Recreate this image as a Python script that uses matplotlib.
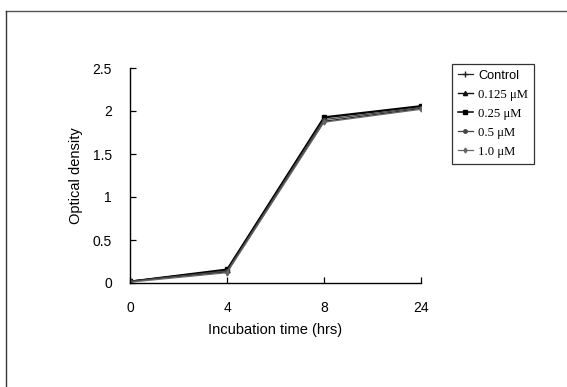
import matplotlib
matplotlib.use("Agg")
import matplotlib.pyplot as plt
from matplotlib.lines import Line2D

times = ["0", "4", "8", "24"]
series_names = ["Control", "0.125 \u03bcM", "0.25 \u03bcM", "0.5 \u03bcM", "1.0 \u03bcM"]
control = [0.02, 0.13, 1.88, 2.03]
c0125 = [0.02, 0.15, 1.92, 2.05]
c025 = [0.02, 0.16, 1.93, 2.06]
c05 = [0.02, 0.14, 1.90, 2.04]
c10 = [0.01, 0.12, 1.87, 2.02]
yticks = [0, 0.5, 1, 1.5, 2, 2.5]

W, H = 567, 387
fig = plt.figure(figsize=(W / 100, H / 100), dpi=100)
ax = fig.add_axes([130 / W, 1 - 283 / H, (421 - 130) / W, (283 - 68) / H])

styles = [
    dict(color="#222222", marker="+", ms=4, lw=0.9),
    dict(color="#111111", marker="^", ms=3, lw=1.0),
    dict(color="#000000", marker="s", ms=3, lw=1.1),
    dict(color="#444444", marker="o", ms=2.5, lw=0.9),
    dict(color="#666666", marker="d", ms=2.5, lw=0.9),
]
xs = list(range(len(times)))
for name, vals, st in zip(series_names, [control, c0125, c025, c05, c10], styles):
    ax.plot(xs, vals, label=name, **st)

ax.set_xlim(0, len(times) - 1)
ax.set_ylim(0, 2.5)
ax.set_xticks(xs)
ax.set_xticklabels(times)
ax.set_yticks(yticks)
ax.set_yticklabels([f"{v:g}" for v in yticks])
for s in ["top", "right"]:
    ax.spines[s].set_visible(False)
for s in ["left", "bottom"]:
    ax.spines[s].set_linewidth(1.0)
    ax.spines[s].set_color("black")
ax.tick_params(axis="both", direction="in", length=4, width=0.9, labelsize=10,
               labelfontfamily="Liberation Sans", colors="black")
ax.tick_params(axis="x", pad=13)
ax.tick_params(axis="y", pad=13)
ax.set_xlabel("Incubation time (hrs)", fontsize=10.5, family="Liberation Sans", labelpad=6)
ax.set_ylabel("Optical density", fontsize=10.5, family="Liberation Sans", labelpad=7)

leg = ax.legend(loc="upper left", bbox_to_anchor=(452 / W, 1 - 64 / H),
                bbox_transform=fig.transFigure, frameon=True, fancybox=False,
                edgecolor="black", fontsize=9.2, handlelength=1.2, handletextpad=0.4,
                labelspacing=0.55, borderpad=0.45, borderaxespad=0)
leg.get_frame().set_linewidth(0.9)
for i, t in enumerate(leg.get_texts()):
    t.set_family("Liberation Sans" if i == 0 else "Liberation Serif")

# frame of the scanned figure
fig.add_artist(Line2D([6 / W, 1], [1 - 11 / H, 1 - 11 / H], transform=fig.transFigure,
                      color="#555555", lw=1.0))
fig.add_artist(Line2D([6 / W, 6 / W], [0, 1 - 11 / H], transform=fig.transFigure,
                      color="#333333", lw=1.0))

fig.savefig("out.png", dpi=100)
